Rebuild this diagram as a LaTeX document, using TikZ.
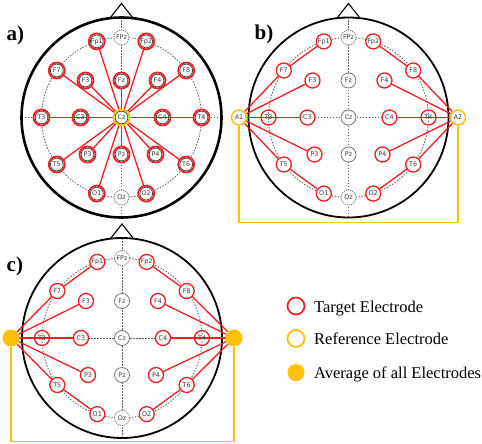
\documentclass[tikz,border=0pt]{standalone}
\usepackage{fontspec}
\setmainfont{Liberation Serif}
\newfontfamily\elfont{DejaVu Sans}
\definecolor{ered}{RGB}{238,32,36}
\definecolor{eyel}{RGB}{255,192,0}
\definecolor{etxt}{RGB}{60,60,60}
\definecolor{edot}{RGB}{95,95,95}
\pgfdeclarelayer{base}
\pgfdeclarelayer{wires}
\pgfsetlayers{base,wires,main}
\tikzset{
 el/.style={circle, minimum size=15pt, inner sep=0pt, fill=white, text=etxt, font=\elfont\fontsize{6.4}{7}\selectfont},
 tgt/.style={el, draw=ered, line width=1.3pt},
 tgtin/.style={el, draw=ered, line width=1.8pt, minimum size=16pt, path picture={\draw[etxt, line width=0.7pt] (path picture bounding box.center) circle (6.4pt);}},
 refin/.style={tgtin, draw=eyel},
 midel/.style={el, draw=edot!85, line width=0.8pt},
 dshel/.style={el, draw=edot!85, line width=0.8pt, dash pattern=on 1.2pt off 1pt},
 refel/.style={el, draw=eyel, line width=1.4pt},
 avgel/.style={circle, fill=eyel, minimum size=17pt, inner sep=0pt},
 conn/.style={draw=ered, line width=1.3pt},
 yline/.style={draw=eyel, line width=1.4pt},
 dotl/.style={draw=edot, line width=0.8pt, dash pattern=on 1.5pt off 1.5pt},
 lab/.style={font=\bfseries\fontsize{21}{24}\selectfont, inner sep=0pt, anchor=base west},
 legt/.style={font=\fontsize{16.5}{19}\selectfont, inner sep=0pt, anchor=base west},
 nofill/.style={fill=none},
}
\newcommand\eegbase[1]{%
 \begin{pgfonlayer}{base}
 \draw[dotl] (0,0) circle (80pt);
 \draw[dotl] (0,-100) -- (0,100);
 \draw[dotl] (-100,0) -- (100,0);
 \draw[black, line width=#1] (0,0) circle (100pt);
 \draw[black, line width=1.1pt, line join=miter] (-11.5,-99.4) -- (0,-114) -- (11.5,-99.4);
 \end{pgfonlayer}
}
\newcommand\eegnodes{%
 \node[dshel] (FPz) at (0,-80) {FPz};
 \node[dshel] (Oz) at (0,80) {Oz};
 \node[oel] (Fp1) at (-24.7,-76.1) {Fp1};
 \node[oel] (Fp2) at (24.7,-76.1) {Fp2};
 \node[oel] (F7) at (-64.7,-47) {F7};
 \node[oel] (F8) at (64.7,-47) {F8};
 \node[oel, tel] (T3) at (-80,0) {T3};
 \node[oel, tel] (T4) at (80,0) {T4};
 \node[oel] (T5) at (-64.7,47) {T5};
 \node[oel] (T6) at (64.7,47) {T6};
 \node[oel] (O1) at (-24.7,76.1) {O1};
 \node[oel] (O2) at (24.7,76.1) {O2};
 \node[oel] (F3) at (-36,-37) {F3};
 \node[oel] (F4) at (36,-37) {F4};
 \node[oel, cxel] (C3) at (-41,0) {C3};
 \node[oel, cxel] (C4) at (41,0) {C4};
 \node[oel] (P3) at (-34,37) {P3};
 \node[oel] (P4) at (34,37) {P4};
 \node[mel] (Fz) at (0,-37) {Fz};
 \node[cel] (Cz) at (0,0) {Cz};
 \node[mel] (Pz) at (0,37) {Pz};
}
\newcommand\earlines[2]{%
 \begin{pgfonlayer}{wires}
 \draw[conn] (#1) -- (F7) -- (Fp1);
 \draw[conn] (#1) -- (F3);
 \draw[conn] (#1.center) -- (C3);
 \draw[conn] (#1) -- (P3);
 \draw[conn] (#1) -- (T5) -- (O1);
 \draw[conn] (#2) -- (F8) -- (Fp2);
 \draw[conn] (#2) -- (F4);
 \draw[conn] (#2.center) -- (C4);
 \draw[conn] (#2) -- (P4);
 \draw[conn] (#2) -- (T6) -- (O2);
 \end{pgfonlayer}
}
\begin{document}
\begin{tikzpicture}[x=1pt, y=-1pt]
\useasboundingbox (0,0) rectangle (482,444);
% panel a
\begin{scope}[shift={(121.5,117.5)}, name prefix=a-, oel/.style={tgtin}, mel/.style={tgtin}, cel/.style={refin}, tel/.style={}, cxel/.style={nofill}]
 \eegbase{2.6pt}
 \eegnodes
 \begin{pgfonlayer}{wires}
 \foreach \n in {Fp1,Fp2,F7,F3,Fz,F4,F8,C3,C4,T5,P3,Pz,P4,T6,O1,O2}
  \draw[conn] (Cz) -- (\n);
 \draw[conn] (Cz.center) -- (T3);
 \draw[conn] (Cz.center) -- (T4);
 \end{pgfonlayer}
\end{scope}
% panel b
\begin{scope}[shift={(348.5,117.5)}, name prefix=b-, oel/.style={tgt}, mel/.style={midel}, cel/.style={midel}, tel/.style={nofill}, cxel/.style={}]
 \eegbase{1.8pt}
 \eegnodes
 \node[refel] (A1) at (-109.5,0) {A1};
 \node[refel] (A2) at (109.5,0) {A2};
 \draw[yline] (A1.south) -- ++(0,97) -| (A2.south);
 \earlines{A1}{A2}
\end{scope}
% panel c
\begin{scope}[shift={(122,338)}, name prefix=c-, oel/.style={tgt}, mel/.style={midel}, cel/.style={midel}, tel/.style={nofill}, cxel/.style={}]
 \eegbase{1.8pt}
 \eegnodes
 \node[avgel] (L) at (-111,0) {};
 \node[avgel] (R) at (112,0) {};
 \draw[yline] (L.south) -- ++(0,95) -| (R.south);
 \earlines{L}{R}
\end{scope}
% labels
\node[lab] (la) at (6.5,40.5) {a)};
\node[lab] (lb) at (254.5,40) {b)};
\node[lab] (lc) at (6.5,271.5) {c)};
% legend
\node[tgt, minimum size=17pt, line width=1.7pt] (g1) at (296,306) {};
\node[refel, minimum size=17pt, line width=1.7pt] (g2) at (296,338.5) {};
\node[avgel] (g3) at (296,372.5) {};
\node[legt] (t1) at (314,312.3) {Target Electrode};
\node[legt] (t2) at (314,344.8) {Reference Electrode};
\node[legt] (t3) at (314,378.6) {Average of all Electrodes};
\end{tikzpicture}
\end{document}
